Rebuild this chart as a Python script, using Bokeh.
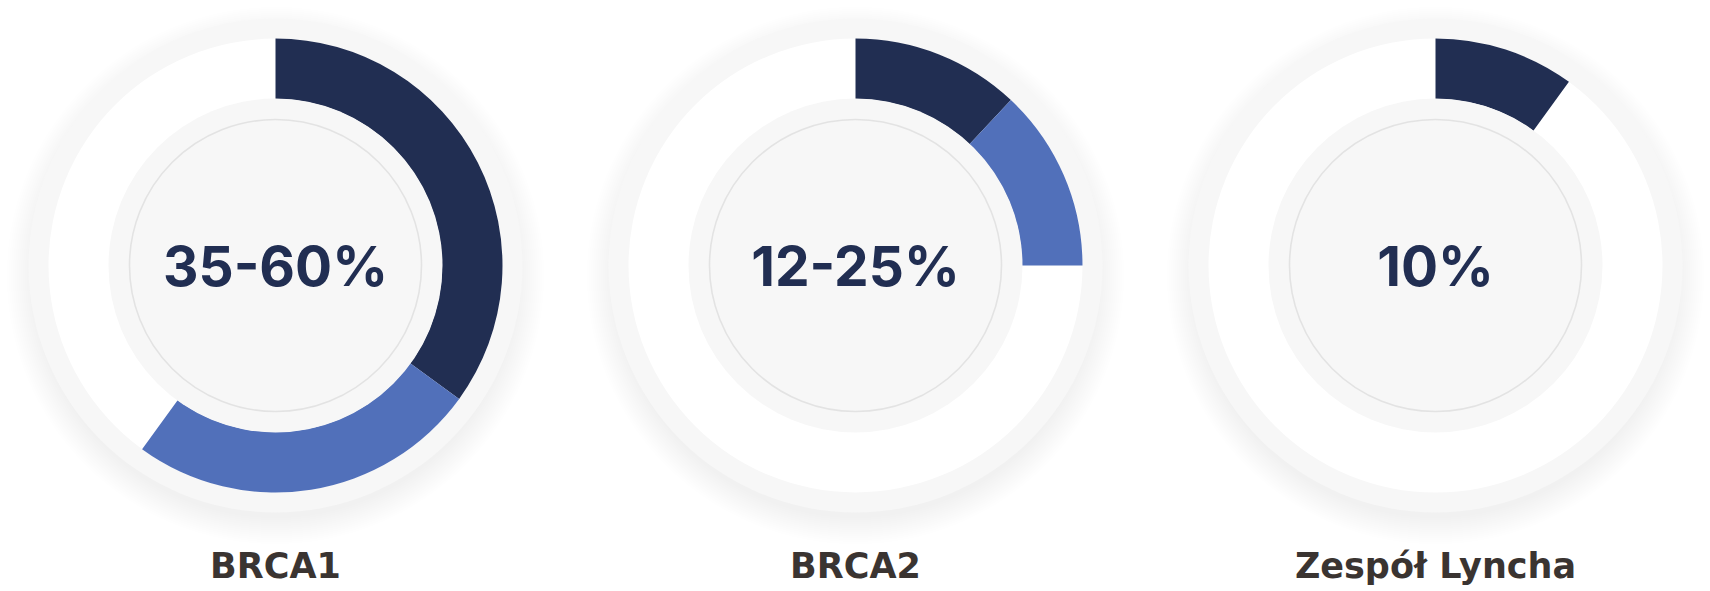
import math
from bokeh.plotting import figure
from bokeh.models import ColumnDataSource, Range1d
from bokeh.core.properties import value
from bokeh.embed import file_html
from bokeh.resources import INLINE

# Lifetime cancer risk by hereditary syndrome
genes = ["BRCA1", "BRCA2", "Zespół Lyncha"]
risk_low = [35, 12, 10]      # lower bound, %
risk_high = [60, 25, 10]     # upper bound, %
risk_labels = ["35-60%", "12-25%", "10%"]

W, H = 1710, 591
centers_x = [275, 855, 1435]
cy = H - 265

R_HALO = 247     # light grey outer ring
R_OUT = 227      # outer edge of the risk band
R_IN = 167       # inner edge of the risk band / grey core
R_LINE = 146     # thin decorative circle

NAVY = "#212e52"
BLUE = "#5170ba"
RING_GREY = "#f7f7f7"
LINE_GREY = "#e3e3e3"
LABEL_COL = "#3a3431"

p = figure(width=W, height=H, x_range=Range1d(0, W), y_range=Range1d(0, H),
           output_backend="svg", toolbar_location=None, min_border=0,
           x_axis_type=None, y_axis_type=None,
           background_fill_color="white", border_fill_color="white",
           outline_line_color=None)
p.grid.visible = False

# soft drop shadow under each dial, offset downwards
for k in range(14):
    p.circle(x=centers_x, y=[cy - 10] * 3, radius=R_HALO - 4 + 2 * k,
             fill_color="black", fill_alpha=0.0028, line_color=None)

# outer grey ring, white band
p.circle(x=centers_x, y=[cy] * 3, radius=R_HALO, fill_color=RING_GREY, line_color=None)
p.circle(x=centers_x, y=[cy] * 3, radius=R_OUT, fill_color="white", line_color=None)


def pct_angle(pct):
    # 0% at twelve o'clock, increasing clockwise
    return math.pi / 2 - 2 * math.pi * pct / 100.0


seg_x, seg_start, seg_end, seg_col = [], [], [], []
for cx, lo, hi in zip(centers_x, risk_low, risk_high):
    seg_x.append(cx)
    seg_start.append(pct_angle(lo))
    seg_end.append(pct_angle(0))
    seg_col.append(NAVY)
    if hi > lo:
        seg_x.append(cx)
        seg_start.append(pct_angle(hi))
        seg_end.append(pct_angle(lo))
        seg_col.append(BLUE)

arcs = ColumnDataSource(dict(x=seg_x, y=[cy] * len(seg_x), start=seg_start,
                             end=seg_end, color=seg_col))
p.annular_wedge(x="x", y="y", inner_radius=R_IN - 0.5, outer_radius=R_OUT,
                start_angle="start", end_angle="end", direction="anticlock",
                fill_color="color", line_color=None, source=arcs)

# grey core with its thin circle
p.circle(x=centers_x, y=[cy] * 3, radius=R_IN, fill_color=RING_GREY, line_color=None)
p.circle(x=centers_x, y=[cy] * 3, radius=R_LINE, fill_color=None,
         line_color=LINE_GREY, line_width=1.6)

# value in the middle of each dial
p.text(x=centers_x, y=[cy] * 3, text=risk_labels,
       text_font=value("Inter"), text_font_style="bold",
       text_font_size=value("55px"), text_color=NAVY,
       text_align="center", text_baseline="middle")

# gene / syndrome name beneath
p.text(x=centers_x, y=[H - 565] * 3, text=genes,
       text_font=value("DejaVu Sans"), text_font_style="bold",
       text_font_size=value("35px"), text_color=LABEL_COL,
       text_align="center", text_baseline="middle")

open("out.html", "w").write(file_html(p, INLINE))
